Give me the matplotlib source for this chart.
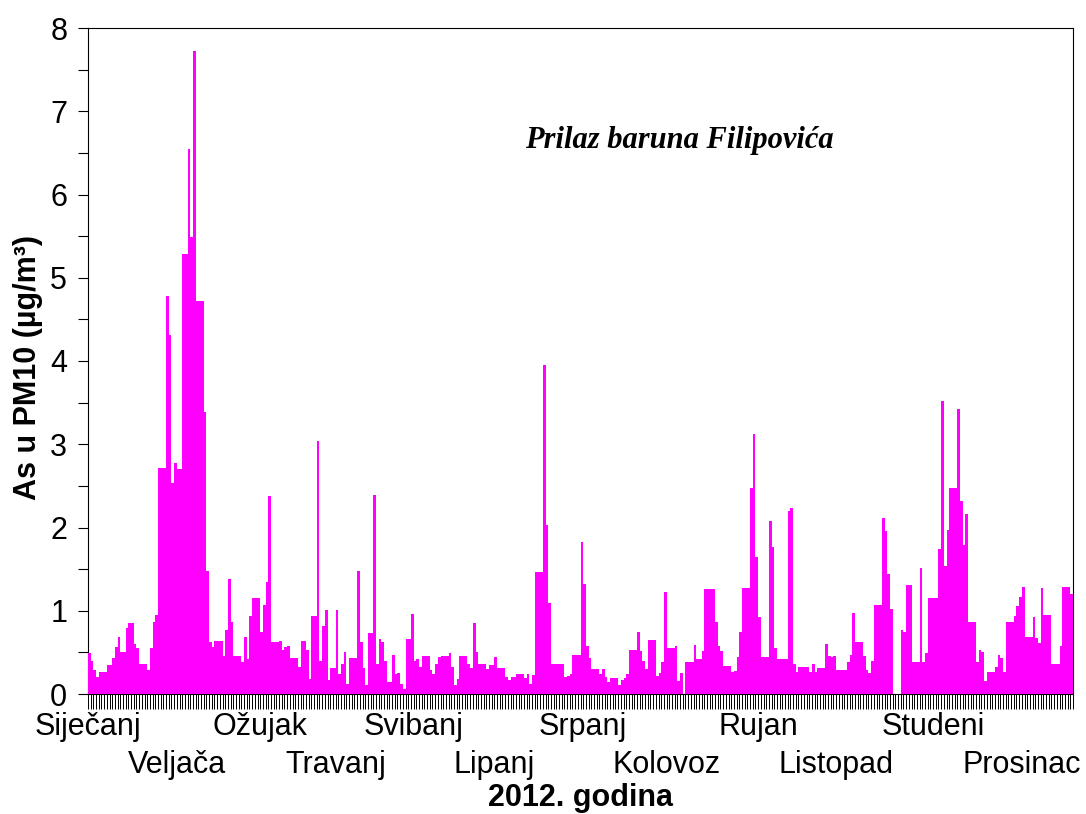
import numpy as np
import matplotlib.pyplot as plt
from matplotlib.ticker import MultipleLocator
from matplotlib.transforms import blended_transform_factory

# dnevne koncentracije As u PM10 (µg/m³), 2012., po mjesecima
jan = [0.49, 0.40, 0.29, 0.20, 0.26, 0.26, 0.26, 0.35, 0.35, 0.43, 0.57, 0.68, 0.51, 0.51, 0.79, 0.85,
       0.85, 0.60, 0.55, 0.36, 0.36, 0.36, 0.29, 0.55, 0.87, 0.95, 2.71, 2.71, 2.71, 4.78, 4.31]
feb = [2.53, 2.78, 2.70, 2.70, 5.28, 5.28, 6.55, 5.49, 7.72, 4.72, 4.72, 4.72, 3.39, 1.48, 0.63,
       0.56, 0.64, 0.64, 0.64, 0.46, 0.77, 1.38, 0.86, 0.46, 0.46, 0.46, 0.38, 0.69, 0.42]
mar = [0.94, 1.15, 1.15, 1.15, 0.75, 1.07, 1.34, 2.38, 0.63, 0.63, 0.63, 0.64, 0.53, 0.57, 0.58, 0.43,
       0.43, 0.43, 0.33, 0.64, 0.64, 0.53, 0.18, 0.94, 0.94, 3.04, 0.40, 0.82, 1.01, 0.17, 0.31]
apr = [0.31, 1.01, 0.24, 0.36, 0.51, 0.12, 0.43, 0.43, 0.43, 1.48, 0.62, 0.31, 0.11, 0.73, 0.73,
       2.39, 0.36, 0.66, 0.62, 0.40, 0.15, 0.15, 0.47, 0.24, 0.25, 0.12, 0.06, 0.66, 0.66, 0.96]
may = [0.40, 0.42, 0.33, 0.46, 0.46, 0.46, 0.29, 0.24, 0.36, 0.44, 0.46, 0.46, 0.46, 0.49, 0.33, 0.11,
       0.18, 0.46, 0.46, 0.46, 0.36, 0.31, 0.85, 0.50, 0.36, 0.36, 0.36, 0.30, 0.35, 0.35, 0.44]
jun = [0.31, 0.31, 0.31, 0.21, 0.17, 0.21, 0.21, 0.24, 0.24, 0.24, 0.19, 0.24, 0.12, 0.23, 1.46,
       1.46, 1.46, 3.95, 2.03, 1.09, 0.36, 0.36, 0.36, 0.36, 0.36, 0.21, 0.22, 0.24, 0.47, 0.47]
jul = [0.47, 1.83, 1.32, 0.58, 0.43, 0.30, 0.30, 0.30, 0.24, 0.30, 0.21, 0.14, 0.19, 0.19, 0.19, 0.11,
       0.17, 0.19, 0.24, 0.53, 0.53, 0.53, 0.75, 0.52, 0.40, 0.30, 0.65, 0.65, 0.65, 0.22, 0.25]
aug = [0.39, 1.22, 0.55, 0.55, 0.55, 0.58, 0.16, 0.25, np.nan, 0.39, 0.39, 0.39, 0.59, 0.42, 0.42, 0.52,
       1.26, 1.26, 1.26, 1.26, 0.86, 0.58, 0.52, 0.34, 0.34, 0.34, 0.26, 0.28, 0.45, 0.75, 1.27]
sep = [1.27, 1.27, 2.48, 3.12, 1.64, 0.92, 0.44, 0.44, 0.44, 2.08, 1.76, 0.55, 0.42, 0.42, 0.42,
       0.42, 2.20, 2.24, 0.36, 0.26, 0.33, 0.33, 0.33, 0.33, 0.26, 0.36, 0.26, 0.31, 0.31, 0.31]
oct_ = [0.60, 0.46, 0.45, 0.46, 0.29, 0.29, 0.29, 0.29, 0.39, 0.47, 0.97, 0.62, 0.62, 0.62, 0.46, 0.29,
        0.25, 0.40, 1.07, 1.07, 1.07, 2.11, 1.96, 1.44, 1.02, np.nan, np.nan, np.nan, 0.77, 0.74, 1.31]
nov = [1.31, 0.38, 0.38, 0.38, 1.51, 0.39, 0.49, 1.15, 1.15, 1.15, 1.15, 1.74, 3.52, 1.54, 1.97,
       2.48, 2.48, 2.48, 3.42, 2.32, 1.79, 2.16, 0.86, 0.86, 0.86, 0.38, 0.53, 0.50, 0.16, 0.27]
dec = [0.27, 0.27, 0.33, 0.47, 0.43, 0.26, 0.86, 0.86, 0.86, 0.94, 1.06, 1.16, 1.28, 0.69, 0.69, 0.69,
       0.92, 0.67, 0.61, 1.27, 0.95, 0.95, 0.95, 0.36, 0.36, 0.36, 0.58, 1.28, 1.28, 1.28, 1.20]

months = ['Siječanj', 'Veljača', 'Ožujak', 'Travanj', 'Svibanj', 'Lipanj',
          'Srpanj', 'Kolovoz', 'Rujan', 'Listopad', 'Studeni', 'Prosinac']

values = np.array(jan + feb + mar + apr + may + jun + jul + aug + sep + oct_ + nov + dec)
days = np.arange(len(values))

plt.rcParams['font.family'] = ['Liberation Sans', 'DejaVu Sans']

fig = plt.figure(figsize=(10.86, 8.14), dpi=100)
ax = fig.add_axes([88 / 1086, 1 - 694 / 814, 985 / 1086, 666 / 814])

ax.bar(days, values, width=1.0, align='edge', color='#ff00ff',
       linewidth=0, antialiased=False, zorder=3)

ax.set_xlim(0, len(values))
ax.set_ylim(0, 8)

# svaki dan jedna crtica ispod osi
ax.set_xticks(np.arange(0, len(values) + 1))
ax.tick_params(axis='x', direction='out', length=10.5, width=0.7,
               labelbottom=False)

ax.set_yticks(range(9))
ax.yaxis.set_minor_locator(MultipleLocator(0.5))
ax.tick_params(axis='y', which='both', direction='out', length=7, width=0.8,
               labelsize=22, pad=8)

for s in ax.spines.values():
    s.set_linewidth(0.8)

# nazivi mjeseci u dva reda
label_x = [0, 33, 64, 92, 121, 151, 184, 215, 249, 278, 314, 347]
trans = blended_transform_factory(ax.transData, fig.transFigure)
for i, (m, xm) in enumerate(zip(months, label_x)):
    y = 1 - 735 / 814 if i % 2 == 0 else 1 - 773 / 814
    ax.text(xm, y, m, transform=trans, ha='center', va='baseline', fontsize=22)

fig.text(580 / 1086, 1 - 806 / 814, '2012. godina', ha='center', va='baseline',
         fontsize=22, fontweight='bold')
fig.text(28 / 1086, 1 - 368 / 814, 'As u PM10 (µg/m³)', ha='center', va='center',
         rotation=90, fontsize=22, fontweight='bold')

fig.text(679 / 1086, 1 - 148 / 814, 'Prilaz baruna Filipovića', ha='center', va='baseline',
         fontsize=22, fontweight='bold', fontstyle='italic',
         family=['Liberation Serif', 'DejaVu Serif'])

fig.savefig('out.png', dpi=100)
